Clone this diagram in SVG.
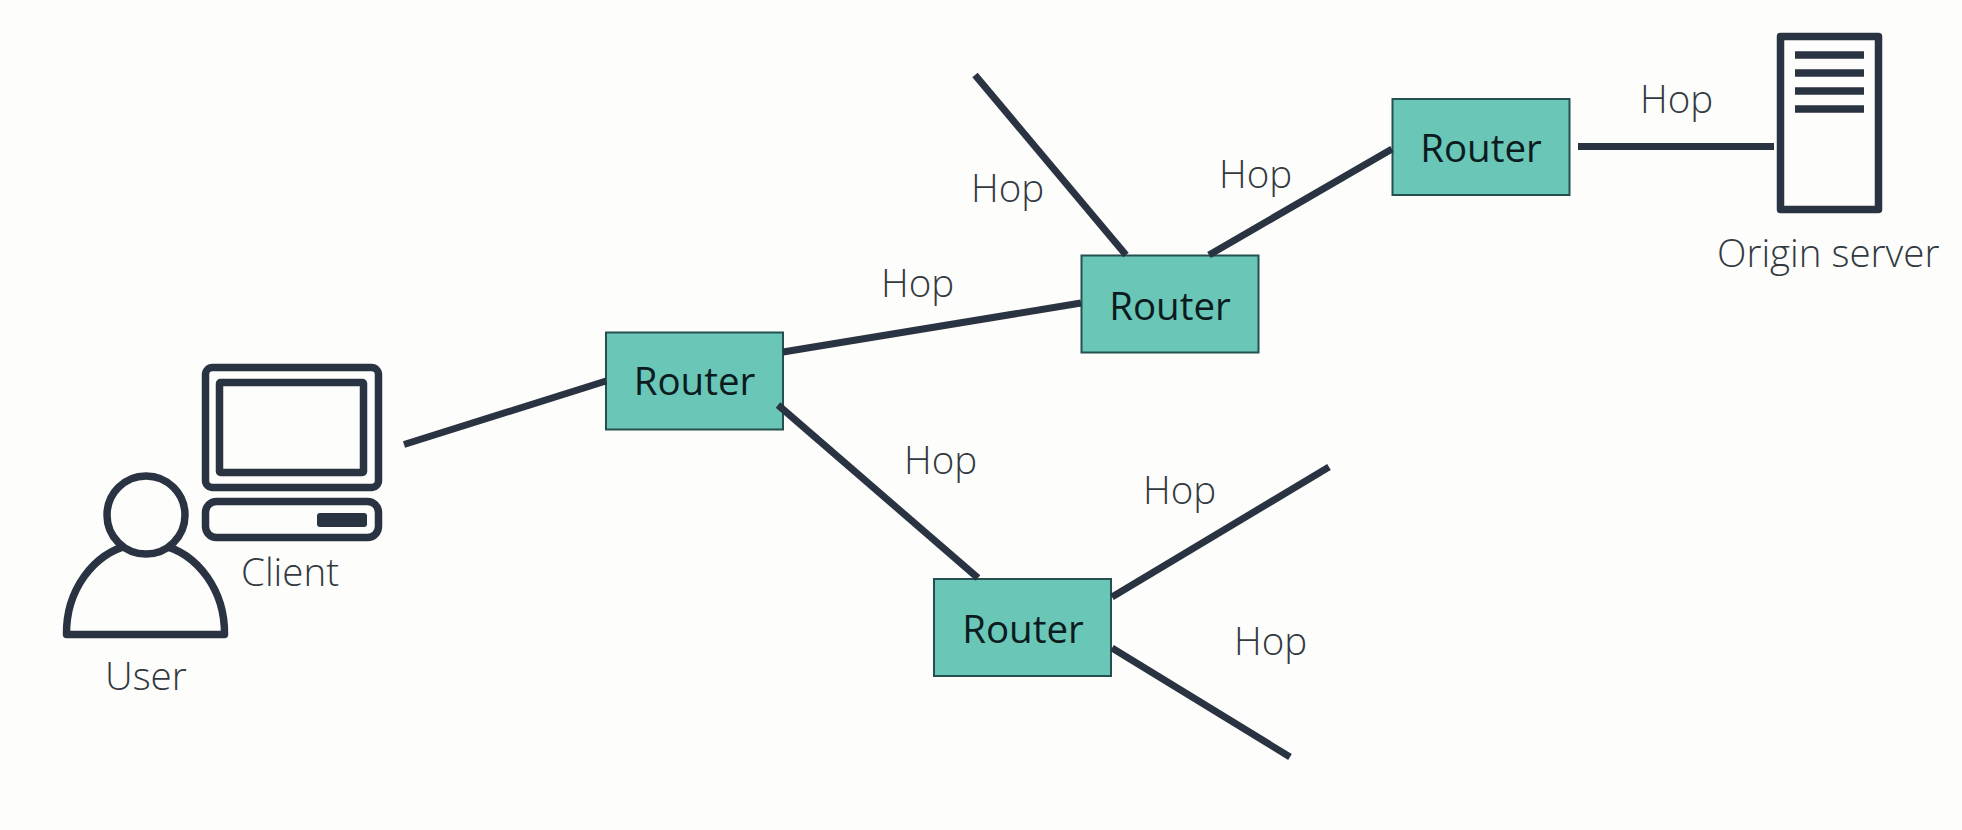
<svg xmlns="http://www.w3.org/2000/svg" width="1962" height="830" viewBox="0 0 1962 830">
<style>
.bg{fill:#fdfdfb}
.ic{fill:none;stroke:#2a3341;stroke-width:7.500;stroke-linejoin:round}
.cn{fill:none;stroke:#2a3341;stroke-width:7}
.box{fill:#6ac7b8;stroke:#24504f;stroke-width:2}
text{font-family:"Open Sans","Noto Sans",sans-serif}
.rt{font-size:38.500px;font-weight:500;fill:#0c1c1e;text-anchor:middle}
.lb{font-size:38.500px;font-weight:300;fill:#333a3f}
</style>
<rect class="bg" width="1962" height="830"/>
<g id="router1"><rect class="box" x="606" y="332.500" width="177" height="97"/><text class="rt" x="694.500" y="394.500">Router</text></g>
<g id="router2"><rect class="box" x="1081.500" y="255.500" width="177" height="97"/><text class="rt" x="1170" y="319.500">Router</text></g>
<g id="router3"><rect class="box" x="1392.500" y="99" width="177" height="96"/><text class="rt" x="1481" y="161.500">Router</text></g>
<g id="router4"><rect class="box" x="934" y="579" width="177" height="97"/><text class="rt" x="1023" y="642.500">Router</text></g>
<g id="connectors">
<path class="cn" d="M404 444.500L606 381"/>
<path class="cn" d="M783 352L1081 303"/>
<path class="cn" d="M778 405L978 578"/>
<path class="cn" d="M975 75L1126 255"/>
<path class="cn" d="M1209 255L1392 149"/>
<path class="cn" d="M1578 146.500H1774"/>
<path class="cn" d="M1112 597L1329 467"/>
<path class="cn" d="M1112 648L1290 757"/>
</g>
<g id="user">
<path class="ic" d="M130 545A79 90 0 0 0 66.500 634.500H224.500A79 90 0 0 0 161 545" stroke-linejoin="miter"/>
<circle cx="146" cy="515" r="39" class="ic" style="fill:#fdfdfb"/>
<text class="lb" x="105" y="690">User</text>
</g>
<g id="client">
<rect class="ic" x="205.500" y="367.500" width="173" height="120" rx="7"/>
<rect class="ic" x="219.500" y="382.500" width="144" height="90" rx="1"/>
<rect class="ic" x="205.500" y="501.500" width="173" height="36" rx="11"/>
<rect x="317" y="513" width="50" height="14" rx="3" fill="#2a3341"/>
<text class="lb" x="241" y="586">Client</text>
</g>
<g id="server">
<rect class="ic" x="1780.500" y="36.500" width="98" height="173"/>
<path class="ic" d="M1795 55H1864M1795 73H1864M1795 91H1864M1795 109H1864"/>
<text class="lb" x="1717" y="267">Origin server</text>
</g>
<g id="labels">
<text class="lb" x="1640" y="112.500">Hop</text>
<text class="lb" x="971" y="202">Hop</text>
<text class="lb" x="1219" y="187.500">Hop</text>
<text class="lb" x="881" y="297">Hop</text>
<text class="lb" x="904" y="473.500">Hop</text>
<text class="lb" x="1143" y="503.500">Hop</text>
<text class="lb" x="1234" y="654.500">Hop</text>
</g>
</svg>
